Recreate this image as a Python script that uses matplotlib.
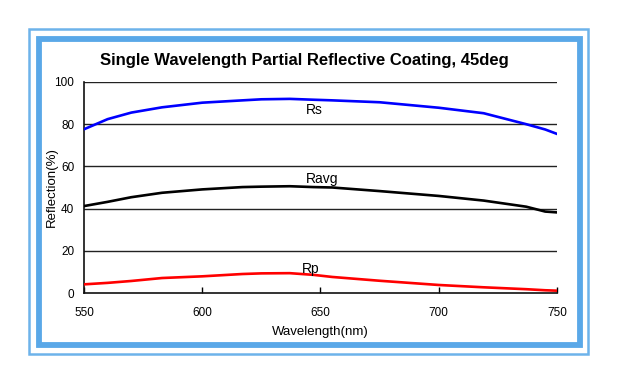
import matplotlib
matplotlib.use("Agg")
import matplotlib.pyplot as plt
from matplotlib.patches import Rectangle
import numpy as np

plt.rcParams['font.family'] = ['Liberation Sans', 'DejaVu Sans']

wl = [550, 560, 570, 583, 600, 617, 625, 637, 647, 655, 675, 700, 719, 737, 745, 750]
rs = [77.6, 82.4, 85.5, 88.0, 90.2, 91.3, 91.8, 92.0, 91.6, 91.3, 90.4, 87.8, 85.2, 80.0, 77.5, 75.4]
ravg = [41.2, 43.2, 45.4, 47.5, 49.1, 50.2, 50.4, 50.6, 50.2, 50.0, 48.3, 46.0, 43.8, 40.9, 38.6, 38.2]
rp = [4.1, 4.8, 5.7, 7.1, 7.9, 9.0, 9.3, 9.4, 8.6, 7.6, 5.8, 3.8, 2.7, 1.8, 1.3, 1.1]

xticks = [550, 600, 650, 700, 750]
yticks = [0, 20, 40, 60, 80, 100]

W, H = 618, 384
fig = plt.figure(figsize=(W / 100, H / 100), dpi=100)

def fx(px):
    return px / W

def fy(py):
    return 1 - py / H

# outer thin frame
fig.patches.append(Rectangle((fx(29), fy(354)), fx(588) - fx(29), fy(29) - fy(354),
                             transform=fig.transFigure, fill=False, ec='#6db3ea', lw=1.8))
# thick band
fig.patches.append(Rectangle((fx(38.5), fy(345)), fx(580) - fx(38.5), fy(38.5) - fy(345),
                             transform=fig.transFigure, fill=False, ec='#5aa8e8', lw=4.2))

ax = fig.add_axes([fx(84), fy(293), fx(557) - fx(84), fy(82) - fy(293)])
ax.set_xlim(550, 750)
ax.set_ylim(0, 100)

for y in yticks[1:]:
    ax.axhline(y, color='#222222', lw=1.0, zorder=1)

ax.plot(wl, rs, color='#0000ff', lw=1.9, zorder=3)
ax.plot(wl, ravg, color='#000000', lw=1.9, zorder=3)
ax.plot(wl, rp, color='#ff0000', lw=1.9, zorder=3)

ax.text(644, 86.5, 'Rs', fontsize=10, va='center', ha='left')
ax.text(644, 54.0, 'Ravg', fontsize=10, va='center', ha='left')
ax.text(642, 11.3, 'Rp', fontsize=10, va='center', ha='left')

ax.set_xticks(xticks)
ax.set_yticks(yticks)
ax.set_xticklabels([str(v) for v in xticks], fontsize=8.5)
ax.set_yticklabels([str(v) for v in yticks], fontsize=8.5)
ax.tick_params(axis='x', direction='in', length=4, width=1, pad=10)
ax.tick_params(axis='y', length=0, pad=7)
for s in ['top', 'right']:
    ax.spines[s].set_visible(False)
for s in ['left', 'bottom']:
    ax.spines[s].set_linewidth(1.2)
    ax.spines[s].set_color('#111111')

ax.set_xlabel('Wavelength(nm)', fontsize=9.5)
ax.xaxis.set_label_coords(0.5, -(332 - 293) / (293 - 82))
ax.xaxis.label.set_va('center')
ax.set_ylabel('Reflection(%)', fontsize=9.5)
ax.yaxis.set_label_coords(-(84 - 52) / (557 - 84), 0.5)
ax.yaxis.label.set_va('center')

fig.text(fx(304), fy(60), 'Single Wavelength Partial Reflective Coating, 45deg',
         fontsize=12, fontweight='bold', ha='center', va='center')

fig.savefig('out.png', dpi=100)
